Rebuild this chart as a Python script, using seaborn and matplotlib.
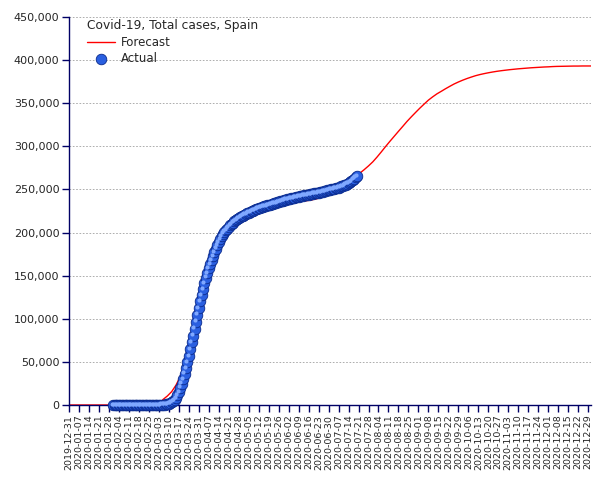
import numpy as np
import pandas as pd
import seaborn as sns
import matplotlib
matplotlib.use("Agg")
import matplotlib.pyplot as plt
import matplotlib.transforms as mtransforms
from matplotlib.ticker import FuncFormatter

#--- data ---
actual_start = "2020-01-31"
actual_cases = [
    1,
    # Feb
    1, 1, 1, 1, 1, 1, 1, 1, 2, 2, 2, 2, 2, 2, 2, 2, 2, 2, 2, 2, 2, 2, 2,
    3, 6, 13, 15, 32, 45,
    # Mar
    84, 120, 165, 228, 282, 401, 525, 674, 1231, 1695,
    2277, 3146, 4209, 5753, 7753, 11178, 14769, 19980, 24926, 30200,
    36300, 42600, 49500, 56900, 64700, 72600, 80500, 88600, 96700, 104800,
    112600,
    # Apr
    120100, 127300, 134500, 141300, 147600, 153300, 158600, 163600, 168300, 172800,
    177200, 181300, 185200, 188900, 192400, 195700, 198800, 201100, 203000, 204700,
    206500, 208300, 210000, 211600, 213000, 214300, 215500, 216600, 217700, 218700,
    # May
    219700, 220600, 221500, 222300, 223100, 223900, 224700, 225500, 226300, 227000,
    227600, 228200, 228800, 229400, 230000, 230500, 231000, 231500, 232000, 232500,
    233000, 233500, 234000, 234500, 235000, 235500, 236100, 236600, 237100, 237600,
    238100,
    # Jun
    238500, 238900, 239300, 239700, 240100, 240500, 240900, 241300, 241700, 242100,
    242400, 242700, 243000, 243300, 243600, 243900, 244300, 244700, 245100, 245400,
    245700, 246000, 246400, 246800, 247200, 247600, 248000, 248400, 248800, 249300,
    # Jul
    249700, 250100, 250500, 250900, 251300, 251700, 252200, 252800, 253500, 254200,
    254900, 255700, 256600, 257600, 258700, 259900, 261200, 262600, 264100, 265600,
]

forecast_start = "2019-12-31"
forecast_cases = [  # one value every 3 days
    0, 0, 0, 0, 0, 0, 0, 0, 0, 0,
    0, 0, 0, 0, 0, 0, 0, 0, 0, 0,
    150, 1000, 6500, 10500, 15500, 23000, 33000, 46000, 64000, 87000,
    111000, 133000, 152000, 167000, 180000, 191000, 200500, 206500, 213000, 217500,
    221500, 224300, 226500, 228300, 229800, 231000, 232000, 232800, 233500, 234100,
    234600, 235000, 235400, 235800, 236200, 236700, 237300, 238200, 239400, 241000,
    243000, 245300, 248000, 251000, 254300, 257800, 261400, 265000, 269000, 273000,
    277300, 282000, 287600, 293600, 299800, 305800, 311600, 317400, 323100, 328900,
    334200, 339300, 344300, 349000, 353600, 357400, 360900, 363800, 366800, 369600,
    372300, 374600, 376700, 378600, 380300, 381900, 383200, 384300, 385300, 386200,
    387000, 387700, 388300, 388900, 389400, 389900, 390300, 390700, 391100, 391400,
    391700, 392000, 392200, 392500, 392700, 392800, 392900, 393000, 393100, 393100,
    393200, 393200, 393200,
]

tick_dates = pd.date_range("2019-12-31", "2020-12-29", freq="7D")
y_ticks = [0, 50000, 100000, 150000, 200000, 250000, 300000, 350000, 400000, 450000]

actual = pd.DataFrame({
    "date": pd.date_range(actual_start, periods=len(actual_cases), freq="D"),
    "cases": actual_cases,
})
forecast = pd.DataFrame({
    "date": pd.date_range(forecast_start, periods=len(forecast_cases), freq="3D"),
    "cases": forecast_cases,
})

sns.set_style("white")
plt.rcParams["font.family"] = ["DejaVu Sans"]

navy = "#000066"
fig = plt.figure(figsize=(6.05, 4.8), dpi=100)
ax = fig.add_axes([69 / 605, 75 / 480, (591 - 69) / 605, (405 - 17) / 480])

sns.lineplot(data=forecast, x="date", y="cases", color="red", linewidth=1,
             ax=ax, label="Forecast", zorder=2)
sns.scatterplot(data=actual, x="date", y="cases", s=58, color="#2a5fe0",
                edgecolor="#0a2a8c", linewidth=0.6, ax=ax, label="Actual",
                zorder=3, clip_on=False)
# small light spot on each ball, shifted up-left a little
shine = mtransforms.offset_copy(ax.transData, fig=fig, x=-1.3, y=1.3, units="dots")
ax.scatter(actual["date"], actual["cases"], s=9, color="#7fa8ff", linewidths=0,
           transform=shine, zorder=4, clip_on=False)

ax.set_xlim(pd.Timestamp("2019-12-31"), pd.Timestamp("2020-12-31"))
ax.set_ylim(0, 450000)
ax.set_xticks(tick_dates)
ax.set_xticklabels([d.strftime("%Y-%m-%d") for d in tick_dates], rotation=90, fontsize=6.8)
ax.set_yticks(y_ticks)
ax.yaxis.set_major_formatter(FuncFormatter(lambda v, p: f"{v:,.0f}"))
ax.tick_params(axis="y", labelsize=8)
ax.tick_params(axis="both", direction="out", length=5, width=1, color=navy, pad=2,
               bottom=True, left=True)
ax.set_xlabel("")
ax.set_ylabel("")

ax.yaxis.grid(True, color="#a0a0a0", linestyle=(0, (2, 2)), linewidth=0.6)
ax.xaxis.grid(False)
ax.set_axisbelow(True)
for s in ["top", "right"]:
    ax.spines[s].set_visible(False)
for s in ["left", "bottom"]:
    ax.spines[s].set_color(navy)
    ax.spines[s].set_linewidth(1)

ax.legend(title="Covid-19, Total cases, Spain", loc="upper left",
          bbox_to_anchor=(0.03, 1.0), frameon=False, fontsize=8.5,
          title_fontsize=8.8, alignment="left", handlelength=2.4,
          handletextpad=0.5, labelspacing=0.3, borderaxespad=0,
          borderpad=0.2)

fig.savefig("out.png", dpi=100)
